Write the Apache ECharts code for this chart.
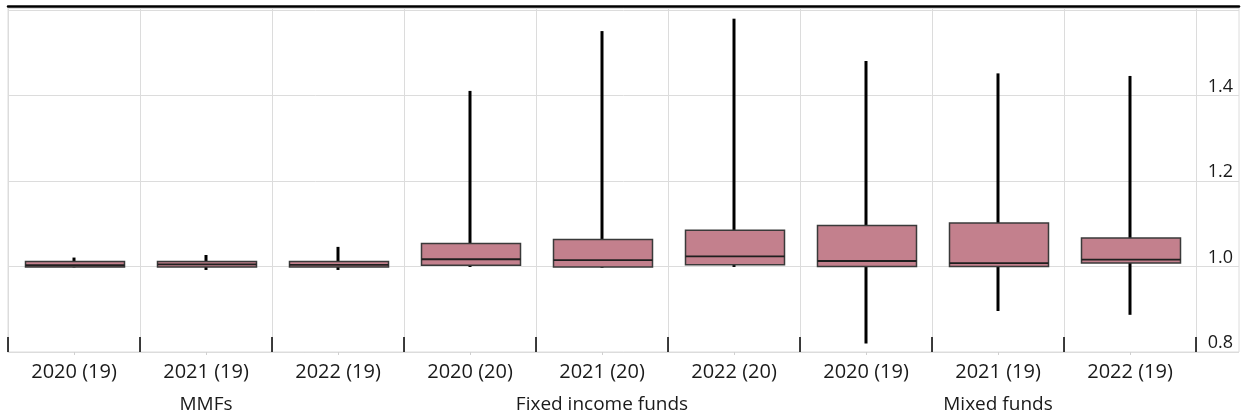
<!DOCTYPE html>
<html>
<head>
<meta charset="utf-8">
<script src="https://cdn.jsdelivr.net/npm/echarts@6/dist/echarts.min.js"></script>
<style>
html,body{margin:0;padding:0;background:#fff;}
#chart{width:1247px;height:417px;}
</style>
</head>
<body>
<div id="chart"></div>
<script>
// ---- data ----
const categories = ['2020 (19)', '2021 (19)', '2022 (19)', '2020 (20)', '2021 (20)', '2022 (20)', '2020 (19)', '2021 (19)', '2022 (19)'];
const groupLabels = ['', 'MMFs', '', '', 'Fixed income funds', '', '', 'Mixed funds', ''];
const whiskerLow  = [0.998, 0.992, 0.992, 0.999, 0.997, 0.999, 0.820, 0.896, 0.887];
const quartile1   = [0.999, 0.999, 0.999, 1.003, 0.999, 1.004, 1.000, 1.000, 1.008];
const medians     = [1.003, 1.005, 1.004, 1.017, 1.015, 1.024, 1.013, 1.008, 1.016];
const quartile3   = [1.012, 1.012, 1.012, 1.054, 1.063, 1.085, 1.096, 1.102, 1.067];
const whiskerHigh = [1.021, 1.027, 1.046, 1.411, 1.551, 1.580, 1.481, 1.452, 1.446];
const yMin = 0.8, yMax = 1.605, yStep = 0.2;

const FONT = 'Open Sans';
const boxData = categories.map((c, i) => [i, whiskerLow[i], quartile1[i], medians[i], quartile3[i], whiskerHigh[i]]);

function renderBox(params, api) {
  const x = api.value(0);
  const lo = api.coord([x, api.value(1)]);
  const b = api.coord([x, api.value(2)]);
  const m = api.coord([x, api.value(3)]);
  const t = api.coord([x, api.value(4)]);
  const hi = api.coord([x, api.value(5)]);
  const band = api.size([1, 0])[0];
  const w = Math.round(band * 0.75);
  const cx = lo[0];
  const left = Math.round(cx - w / 2) + 0.5;
  return {
    type: 'group',
    children: [
      { type: 'line', shape: { x1: cx, y1: lo[1], x2: cx, y2: hi[1] }, style: { stroke: '#000', lineWidth: 3 } },
      { type: 'rect', shape: { x: left, y: t[1], width: w, height: b[1] - t[1] }, style: { fill: '#c3808d', stroke: '#3a3a3a', lineWidth: 1.5 } },
      { type: 'line', shape: { x1: left, y1: m[1], x2: left + w, y2: m[1] }, style: { stroke: '#1f1f1f', lineWidth: 1.8 } }
    ]
  };
}

const chart = echarts.init(document.getElementById('chart'), null, { renderer: 'canvas' });
chart.setOption({
  animation: false,
  backgroundColor: '#fff',
  textStyle: { fontFamily: FONT },
  grid: [
    { left: 8, right: 8, top: 8, bottom: 65, show: true, borderColor: '#dcdcdc', borderWidth: 1, backgroundColor: 'transparent' },
    { left: 8, right: 51, top: 8, bottom: 65 }
  ],
  xAxis: [
    { gridIndex: 0, type: 'value', min: 0, max: 1, position: 'top', offset: 2,
      axisLine: { show: true, lineStyle: { color: '#000', width: 2.5 } },
      axisTick: { show: false }, axisLabel: { show: false }, splitLine: { show: false } },
    { gridIndex: 1, type: 'category', data: categories, position: 'bottom',
      axisLine: { show: true, lineStyle: { color: '#dcdcdc', width: 1 } },
      axisTick: { show: true, inside: true, length: 15, lineStyle: { color: '#000', width: 1.5 } },
      axisLabel: { interval: 0, color: '#1a1a1a', fontSize: 20, fontFamily: FONT, margin: 10 },
      splitLine: { show: true, interval: 0, lineStyle: { color: '#dcdcdc', width: 1 } } },
    { gridIndex: 1, type: 'category', data: groupLabels, position: 'bottom',
      axisLine: { show: false }, axisTick: { show: false },
      axisLabel: { interval: 0, color: '#1a1a1a', fontSize: 19, fontFamily: FONT, margin: 43 },
      splitLine: { show: false } },
    { gridIndex: 1, type: 'category', data: categories, position: 'bottom',
      axisLine: { show: false },
      axisTick: { show: true, alignWithLabel: true, length: 3, lineStyle: { color: '#d0d0d0', width: 1 } },
      axisLabel: { show: false }, splitLine: { show: false } }
  ],
  yAxis: [
    { gridIndex: 0, type: 'value', position: 'right', min: yMin, max: yMax, interval: yStep,
      axisLine: { show: false }, axisTick: { show: false },
      axisLabel: { inside: true, margin: 6, verticalAlign: 'bottom', padding: [0, 0, 0, 0], color: '#1a1a1a', fontSize: 18, fontFamily: FONT,
        formatter: v => (v > 1.5 ? '' : v.toFixed(1)) },
      splitLine: { show: true, lineStyle: { color: '#dcdcdc', width: 1 } } },
    { gridIndex: 1, type: 'value', min: yMin, max: yMax, interval: yStep, show: false,
      splitLine: { show: false } }
  ],
  series: [
    { type: 'custom', xAxisIndex: 1, yAxisIndex: 1, renderItem: renderBox, data: boxData,
      encode: { x: 0, y: [1, 2, 3, 4, 5] }, z: 5 }
  ]
});
</script>
</body>
</html>
